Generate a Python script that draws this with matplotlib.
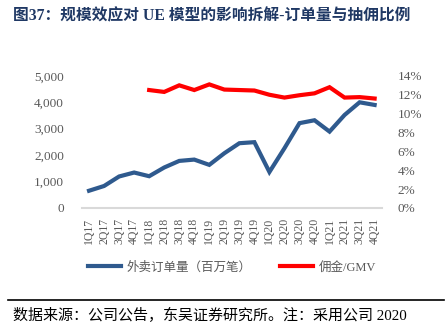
import matplotlib
matplotlib.use("Agg")
import matplotlib.pyplot as plt
from matplotlib.lines import Line2D
import numpy as np

quarters = ["1Q17", "2Q17", "3Q17", "4Q17", "1Q18", "2Q18", "3Q18", "4Q18",
            "1Q19", "2Q19", "3Q19", "4Q19", "1Q20", "2Q20", "3Q20", "4Q20",
            "1Q21", "2Q21", "3Q21", "4Q21"]
orders = [650, 830, 1190, 1340, 1200, 1530, 1780, 1830,
          1630, 2070, 2450, 2490, 1360, 2260, 3210, 3320,
          2890, 3520, 4000, 3900]
take_rate = [np.nan, np.nan, np.nan, np.nan, 12.5, 12.3, 13.0, 12.5,
             13.1, 12.55, 12.5, 12.45, 12.0, 11.7, 11.95, 12.15,
             12.8, 11.7, 11.75, 11.6]
left_ticks = [0, 1000, 2000, 3000, 4000, 5000]
right_ticks = [0, 2, 4, 6, 8, 10, 12, 14]

title_text = "图37：规模效应对 UE 模型的影响拆解-订单量与抽佣比例"
legend_labels = ["外卖订单量（百万笔）", "佣金/GMV"]
source_text = "数据来源：公司公告，东吴证券研究所。注：采用公司 2020"

serif_cjk = ["Liberation Serif", "Noto Sans CJK SC"]
blue = "#2F5A8E"
red = "#FF0000"
gray = "#595959"

fig = plt.figure(figsize=(4.48, 3.30), dpi=100)
ax = fig.add_axes([0.183, 0.370, 0.670, 0.400])
ax2 = ax.twinx()

x = np.arange(len(quarters))
ax.plot(x, orders, color=blue, lw=3.0, solid_joinstyle="miter", zorder=3)
ax2.plot(x, take_rate, color=red, lw=3.0, solid_joinstyle="miter", zorder=3)

ax.set_xlim(-0.47, len(quarters) - 0.5)
ax.set_ylim(0, 5000)
ax2.set_ylim(0, 14)

ax.set_xticks(x)
ax.set_xticklabels(quarters, rotation=90, fontsize=8.5, color=gray,
                   family="Liberation Serif", va="top")
ax.set_yticks(left_ticks)
ax.set_yticklabels([f"{v:,}" for v in left_ticks], fontsize=9.5, color=gray,
                   family="Liberation Serif")
ax2.set_yticks(right_ticks)
ax2.set_yticklabels([f"{v}%" for v in right_ticks], fontsize=9.5, color=gray,
                    family="Liberation Serif")

ax.tick_params(axis="x", length=0, pad=7)
ax.tick_params(axis="y", length=0, pad=13)
ax2.tick_params(axis="y", length=0, pad=11)

for a in (ax, ax2):
    for s in a.spines.values():
        s.set_visible(False)
ax.spines["bottom"].set_visible(True)
ax.spines["bottom"].set_color("#D9D9D9")
ax.spines["bottom"].set_linewidth(1.5)

# title
fig.text(0.029, 0.950, title_text, family=serif_cjk, fontsize=11.3,
         fontweight="bold", color="#1F3864", ha="left", va="center")

# legend
handles = [Line2D([], [], color=blue, lw=3.0), Line2D([], [], color=red, lw=3.0)]
fig.legend(handles, legend_labels, loc="center left", bbox_to_anchor=(0.172, 0.19),
           ncol=2, frameon=False, columnspacing=2.3, handlelength=2.6,
           handletextpad=0.45, prop={"family": serif_cjk, "size": 9},
           labelcolor=gray)

# footer rule and source note
fig.add_artist(Line2D([0.018, 0.991], [0.091, 0.091], color="black", lw=1.2))
fig.text(0.029, 0.045, source_text, family=serif_cjk, fontsize=10.8,
         color="black", ha="left", va="center")

fig.savefig("out.png", dpi=100)
